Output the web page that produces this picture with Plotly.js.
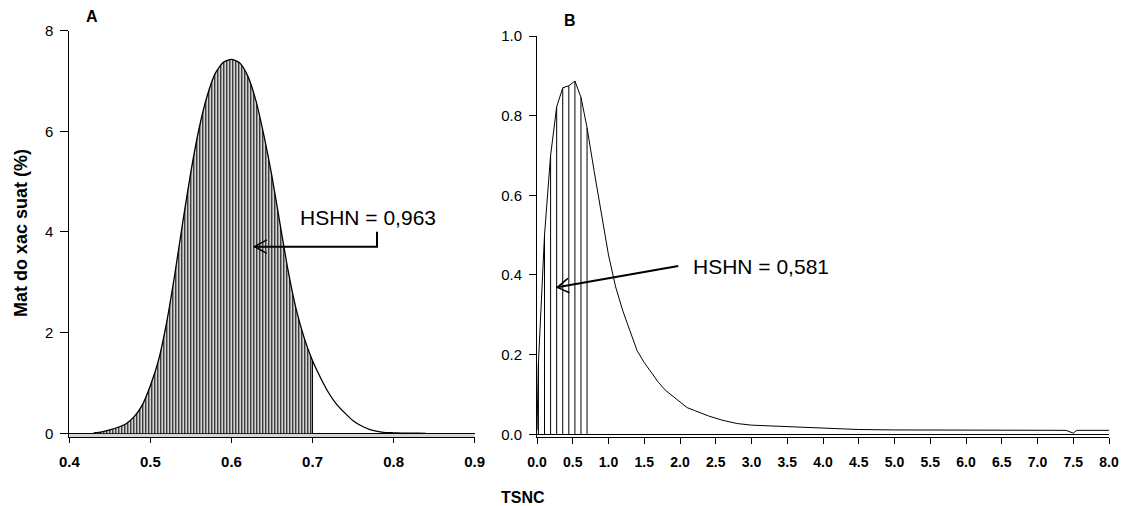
<!DOCTYPE html>
<html>
<head>
<meta charset="utf-8">
<script src="https://cdn.plot.ly/plotly-3.0.1.min.js"></script>
<style>html,body{margin:0;padding:0;background:#fff;}#chart{width:1124px;height:506px;}</style>
</head>
<body>
<div id="chart"></div>
<script>
// Panel A: TSNC vs probability density (%)
const xA = [0.43,0.44,0.45,0.46,0.47,0.48,0.49,0.50,0.51,0.52,0.53,0.54,0.55,0.56,0.57,0.58,0.59,0.60,
            0.61,0.62,0.63,0.64,0.65,0.66,0.67,0.68,0.69,0.70,0.71,0.72,0.73,0.74,0.75,0.76,0.77,0.78,
            0.79,0.80,0.81,0.82,0.83,0.84];
const yA = [0.01,0.03,0.07,0.12,0.19,0.33,0.56,0.95,1.45,2.2,3.15,4.2,5.2,6.05,6.7,7.15,7.37,7.43,
            7.36,7.1,6.62,5.92,5.1,4.15,3.22,2.45,1.88,1.44,1.1,0.8,0.57,0.4,0.25,0.15,0.08,0.04,
            0.015,0.01,0.005,0.003,0.001,0];
const hatchMaxA = 0.70;

// Panel B
const xB = [0,0.02,0.105,0.19,0.275,0.36,0.445,0.53,0.615,0.70,0.80,0.90,1.0,1.1,1.2,1.3,1.4,1.5,1.6,1.7,
            1.8,1.9,2.0,2.1,2.2,2.4,2.6,2.8,3.0,3.5,4.0,4.5,5.0,5.5,6.0,7.0,7.4,7.5,7.55,8.0];
const yB = [0.01,0.18,0.50,0.70,0.822,0.870,0.875,0.887,0.846,0.770,0.66,0.56,0.45,0.37,0.31,0.26,0.21,0.18,0.155,0.13,
            0.11,0.095,0.08,0.067,0.06,0.046,0.035,0.027,0.023,0.019,0.015,0.012,0.011,0.011,0.010,0.010,0.010,0.003,0.010,0.010];
const hatchMaxB = 0.70;

const xTicksA = [0.4,0.5,0.6,0.7,0.8,0.9];
const yTicksA = [0,2,4,6,8];
const xTicksB = [0,0.5,1,1.5,2,2.5,3,3.5,4,4.5,5,5.5,6,6.5,7,7.5,8];
const yTicksB = [0,0.2,0.4,0.6,0.8,1.0];

const labelA = 'HSHN = 0,963';
const labelB = 'HSHN = 0,581';

const FF = 'Liberation Sans, Arial, sans-serif';

// hatched subset for A
const hxA = [], hyA = [];
xA.forEach((x,i)=>{ if (x <= hatchMaxA + 1e-9) { hxA.push(x); hyA.push(yA[i]); } });
const edgeIdx = xA.findIndex(x => Math.abs(x - hatchMaxA) < 1e-9);

// drop lines for B
const dxB = [], dyB = [];
xB.forEach((x,i)=>{ if (x > 0 && x <= hatchMaxB + 1e-9) { dxB.push(x, x, null); dyB.push(0, yB[i], null); } });

const traces = [
  {x: hxA, y: hyA, type:'scatter', mode:'lines', fill:'tozeroy', line:{width:0, color:'rgba(0,0,0,0)', shape:'spline', smoothing:0.6},
   fillcolor:'white', fillpattern:{shape:'|', size:3, solidity:0.45, fgcolor:'black', bgcolor:'white'},
   xaxis:'x', yaxis:'y', hoverinfo:'skip'},
  {x: [xA[edgeIdx], xA[edgeIdx]], y: [0, yA[edgeIdx]], type:'scatter', mode:'lines',
   line:{color:'black', width:1}, xaxis:'x', yaxis:'y', hoverinfo:'skip'},
  {x: xA, y: yA, type:'scatter', mode:'lines', line:{color:'black', width:1.3, shape:'spline', smoothing:0.6},
   xaxis:'x', yaxis:'y'},
  {x: dxB, y: dyB, type:'scatter', mode:'lines', line:{color:'black', width:1},
   xaxis:'x2', yaxis:'y2', hoverinfo:'skip'},
  {x: xB, y: yB, type:'scatter', mode:'lines', line:{color:'black', width:1},
   xaxis:'x2', yaxis:'y2'}
];

const W = 1124, H = 506;
const px = v => v / W, py = v => (H - v) / H;

const axCommon = {
  showline:true, linecolor:'black', linewidth:1, ticks:'outside', tickcolor:'black', tickwidth:1,
  showgrid:false, fixedrange:true
};

const layout = {
  width: W, height: H, margin:{l:0,r:0,t:0,b:0},
  paper_bgcolor:'white', plot_bgcolor:'white', showlegend:false,
  font:{family:FF, color:'black'},
  xaxis: Object.assign({}, axCommon, {
    domain:[px(69.3), px(474.7)], range:[0.4, 0.9], tickvals:xTicksA, ticktext:xTicksA.map(v=>v.toFixed(1)),
    ticklen:5, zeroline:false, anchor:'y', tickfont:{family:FF, size:15, weight:'bold'}, ticklabelstandoff:6
  }),
  yaxis: Object.assign({}, axCommon, {
    domain:[py(437.3), py(30.6)], range:[-0.0795, 8.0], tickvals:yTicksA, ticktext:yTicksA.map(String),
    ticklen:8, zeroline:true, zerolinecolor:'black', zerolinewidth:1, anchor:'x',
    tickfont:{family:FF, size:15}, ticklabelstandoff:4
  }),
  xaxis2: Object.assign({}, axCommon, {
    domain:[px(537), px(1109)], range:[0, 8], tickvals:xTicksB, ticktext:xTicksB.map(v=>v.toFixed(1)),
    ticklen:6, zeroline:false, anchor:'y2', tickfont:{family:FF, size:14, weight:'bold'}, ticklabelstandoff:6
  }),
  yaxis2: Object.assign({}, axCommon, {
    domain:[py(437.3), py(36)], range:[-0.0075, 1.0], tickvals:yTicksB, ticktext:yTicksB.map(v=>v.toFixed(1)),
    ticklen:7, zeroline:true, zerolinecolor:'black', zerolinewidth:1, anchor:'x2',
    tickfont:{family:FF, size:15}, ticklabelstandoff:4
  }),
  shapes: [
    {type:'rect', xref:'x', yref:'y', x0:0.4, x1:0.9, y0:-0.0795, y1:0, fillcolor:'#d4d4d4', line:{width:0}, layer:'below'},
    {type:'path', xref:'x', yref:'y', path:'M 0.7795 4.006 L 0.7795 3.708 L 0.6284 3.708', line:{color:'black', width:2}},
    {type:'path', xref:'x', yref:'y', path:'M 0.6437 3.841 L 0.6284 3.708 L 0.6437 3.574', line:{color:'black', width:1.5}},
    {type:'path', xref:'x2', yref:'y2', path:'M 1.976 0.4225 L 0.284 0.369', line:{color:'black', width:2}},
    {type:'path', xref:'x2', yref:'y2', path:'M 0.432 0.3915 L 0.284 0.369 L 0.455 0.3555', line:{color:'black', width:1.5}}
  ],
  annotations: [
    {text:'Mat do xac suat (%)', xref:'paper', yref:'paper', x:px(21), y:py(233), textangle:-90,
     showarrow:false, xanchor:'center', yanchor:'middle', font:{family:FF, size:18, weight:'bold'}},
    {text:'A', xref:'paper', yref:'paper', x:px(92), y:py(16), showarrow:false, xanchor:'center', yanchor:'middle',
     font:{family:FF, size:16, weight:'bold'}},
    {text:'B', xref:'paper', yref:'paper', x:px(569.5), y:py(20.5), showarrow:false, xanchor:'center', yanchor:'middle',
     font:{family:FF, size:16, weight:'bold'}},
    {text:'TSNC', xref:'paper', yref:'paper', x:px(523), y:py(497), showarrow:false, xanchor:'center', yanchor:'middle',
     font:{family:FF, size:16, weight:'bold'}},
    {text:labelA, xref:'x', yref:'y', x:0.7688, y:4.278, showarrow:false, xanchor:'center', yanchor:'middle',
     font:{family:FF, size:21}},
    {text:labelB, xref:'x2', yref:'y2', x:3.13, y:0.4225, showarrow:false, xanchor:'center', yanchor:'middle',
     font:{family:FF, size:21}}
  ]
};

Plotly.newPlot('chart', traces, layout, {staticPlot:true, displayModeBar:false});
</script>
</body>
</html>
